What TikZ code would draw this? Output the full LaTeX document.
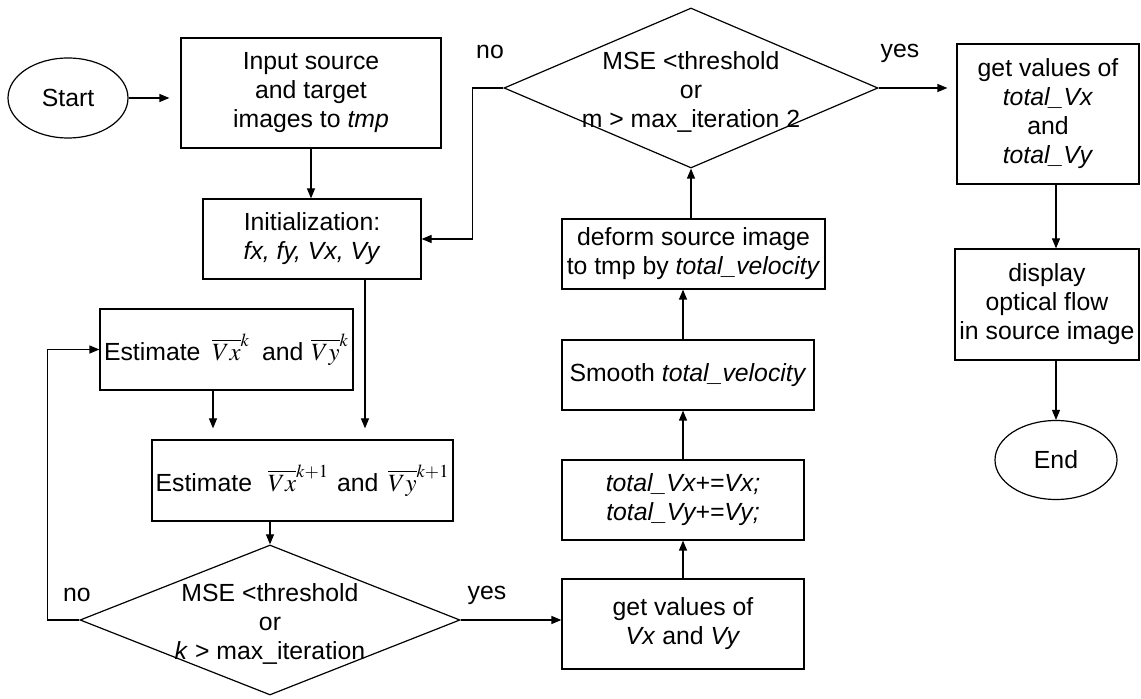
\documentclass[tikz,border=0pt]{standalone}
\usepackage{mathptmx}
\usepackage{fontspec}
\setmainfont{Liberation Sans}
\usetikzlibrary{shapes.geometric,arrows.meta}

\begin{document}
\begin{tikzpicture}[x=0.5pt,y=-0.5pt,
    font=\fontsize{12.4}{14.5}\selectfont,
    line width=0.6pt,
    box/.style={draw,rectangle,align=center,inner sep=1pt},
    term/.style={draw,ellipse,inner sep=0pt},
    decision/.style={draw,diamond,inner sep=0pt},
    arr/.style={-{Triangle[length=5pt,width=4pt]}}]

  \useasboundingbox (0,0) rectangle (1141,699);

  \begin{scope}[every node/.style={term}]
    \node[minimum width=60pt,minimum height=40pt] (start) at (68,98)  {Start};
    \node[minimum width=61pt,minimum height=39.5pt] (stop) at (1056,460) {End};
  \end{scope}

  \begin{scope}[every node/.style={box}]
    \node[minimum width=130pt,minimum height=55pt] (input) at (311,93)
      {Input source\\and target\\images to \textit{tmp}};
    \node[minimum width=109pt,minimum height=40pt] (init) at (312,239)
      {Initialization:\\\textit{fx, fy, Vx, Vy}};
    \node[minimum width=126.5pt,minimum height=40.5pt] (estk) at (226.5,349.5)
      {Estimate\hspace{6pt}$\overline{Vx}^{k}$\hspace{6pt}and\hspace{4pt}$\overline{Vy}^{k}$};
    \node[minimum width=150.5pt,minimum height=40.5pt] (estk1) at (302.5,480.5)
      {Estimate\hspace{8pt}$\overline{Vx}^{k+1}$\hspace{4pt}and\hspace{5pt}$\overline{Vy}^{k+1}$};
    \node[minimum width=121pt,minimum height=45pt] (getv) at (683,624)
      {get values of\\\textit{Vx} and \textit{Vy}};
    \node[minimum width=121pt,minimum height=40pt] (accum) at (683,500)
      {\textit{total\_Vx+=Vx;}\\\textit{total\_Vy+=Vy;}};
    \node[minimum width=126pt,minimum height=35pt] (smooth) at (688,375)
      {Smooth \textit{total\_velocity}};
    \node[minimum width=131.5pt,minimum height=35pt] (deform) at (693.5,254)
      {deform source image\\to tmp by \textit{total\_velocity}};
    \node[minimum width=91pt,minimum height=70pt] (gettot) at (1048,114)
      {get values of\\\textit{total\_Vx}\\and\\\textit{total\_Vy}};
    \node[minimum width=92pt,minimum height=55.5pt] (display) at (1047,304.5)
      {display\\optical flow\\in source image};
  \end{scope}

  \node[decision,minimum width=190pt,minimum height=75pt,
        label={[align=center,yshift=-2pt]center:MSE <threshold\\or\\\textit{k} > max\_iteration}]
        (test1) at (270,620) {};
  \node[decision,minimum width=187pt,minimum height=80pt,
        label={[align=center,yshift=-2pt]center:MSE <threshold\\or\\m > max\_iteration 2}]
        (test2) at (691,88) {};

  \node (no1)  at (77,595)  {no};
  \node (yes1) at (487,595) {yes};
  \node (no2)  at (490,52)  {no};
  \node (yes2) at (900,53)  {yes};

  \begin{scope}[every edge/.style={draw,arr}]
    \path (start.east) edge[shorten >=5.5pt] (start.east -| input.west);
    \path (input.south) edge (input.south |- init.north);
    \path ([xshift=26.5pt]init.south) edge[shorten >=5.5pt] ([xshift=26.5pt]init.south |- estk1.north);
    \path ([xshift=-6.75pt]estk.south) edge[shorten >=5.5pt] ([xshift=-6.75pt]estk.south |- estk1.north);
    \path (test1.north |- estk1.south) edge (test1.north);
    \path (test1.east) edge (test1.east -| getv.west);
    \path (getv.north) edge (accum.south);
    \path (accum.north) edge (accum.north |- smooth.south);
    \path (accum.north |- smooth.north) edge (accum.north |- deform.south);
    \path (test2.south |- deform.north) edge (test2.south);
    \path (test2.east) edge[shorten >=4.5pt] (test2.east -| gettot.west);
    \path (stop.north |- gettot.south) edge (stop.north |- display.north);
    \path (stop.north |- display.south) edge (stop.north);
  \end{scope}

  \draw[arr] (test1.west) -- ++(-16pt,0) |- (estk.west);
  \draw[arr] (test2.west) -- ++(-15.5pt,0) |- (init.east);

\end{tikzpicture}
\end{document}
